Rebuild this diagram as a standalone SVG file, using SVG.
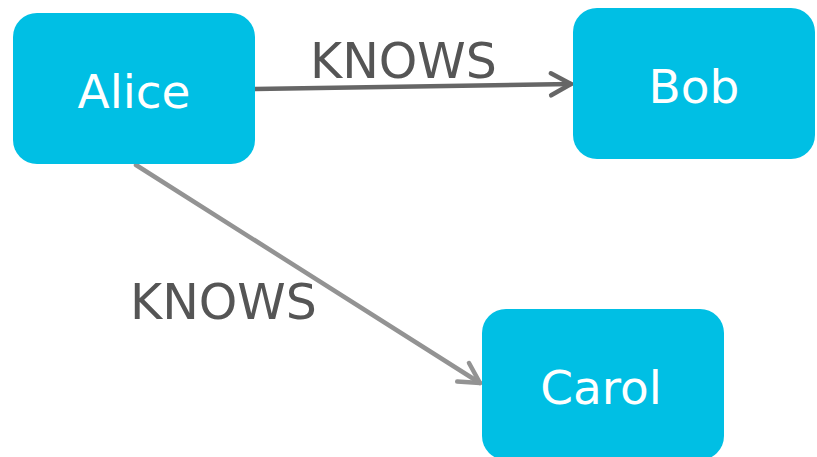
<svg xmlns="http://www.w3.org/2000/svg" width="817" height="457" viewBox="0 0 817 457">
<style>
.node rect{fill:#00BFE4;}
.node text{fill:#ffffff;font-family:"DejaVu Sans",Verdana,sans-serif;font-size:47px;text-anchor:middle;}
.lbl{fill:#555555;font-family:"DejaVu Sans",Verdana,sans-serif;font-size:49px;}
.edge{fill:none;stroke-linecap:round;stroke-linejoin:round;}
</style>
<defs>
<marker id="a1" markerUnits="userSpaceOnUse" markerWidth="40" markerHeight="40" refX="0" refY="0" viewBox="-30 -20 40 40" orient="auto" overflow="visible">
<path d="M -20 -11 L 0 0 L -20 11" fill="none" stroke="#666666" stroke-width="4.5" stroke-linecap="round" stroke-linejoin="round"/>
</marker>
<marker id="a2" markerUnits="userSpaceOnUse" markerWidth="40" markerHeight="40" refX="0" refY="0" viewBox="-30 -20 40 40" orient="auto" overflow="visible">
<path d="M -20 -11 L 0 0 L -20 11" fill="none" stroke="#939393" stroke-width="4.5" stroke-linecap="round" stroke-linejoin="round"/>
</marker>
</defs>
<g id="connectors">
<line class="edge" x1="255" y1="89" x2="571" y2="84" stroke="#666666" stroke-width="4.5" marker-end="url(#a1)"/>
<line class="edge" x1="136" y1="165" x2="480" y2="383" stroke="#939393" stroke-width="4.5" marker-end="url(#a2)"/>
<text class="lbl" x="310" y="78">KNOWS</text>
<text class="lbl" x="130" y="319">KNOWS</text>
</g>
<g id="alice" class="node">
<rect x="13" y="13" width="242" height="151" rx="24"/>
<text x="134" y="108">Alice</text>
</g>
<g id="bob" class="node">
<rect x="573" y="8" width="242" height="151" rx="24"/>
<text x="694" y="103">Bob</text>
</g>
<g id="carol" class="node">
<rect x="482" y="309" width="242" height="151" rx="24"/>
<text x="601" y="404">Carol</text>
</g>
</svg>
